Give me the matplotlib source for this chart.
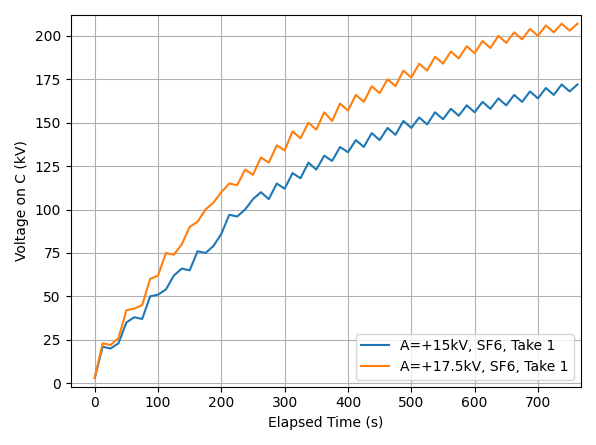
import matplotlib.pyplot as plt

# datos
t = [0, 12.5, 25, 37.5, 50, 62.5, 75, 87.5, 100, 112.5, 125, 137.5, 150, 162.5, 175, 187.5,
     200, 212.5, 225, 237.5, 250, 262.5, 275, 287.5, 300, 312.5, 325, 337.5, 350, 362.5,
     375, 387.5, 400, 412.5, 425, 437.5, 450, 462.5, 475, 487.5, 500, 512.5, 525, 537.5,
     550, 562.5, 575, 587.5, 600, 612.5, 625, 637.5, 650, 662.5, 675, 687.5, 700, 712.5,
     725, 737.5, 750, 762.5]
v15 = [3, 21, 20, 23, 35, 38, 37, 50, 51, 54, 62, 66, 65, 76, 75, 79,
       86, 97, 96, 100, 106, 110, 106, 115, 112, 121, 118, 127, 123, 131,
       128, 136, 133, 140, 136, 144, 140, 147, 143, 151, 147, 153, 149, 156,
       152, 158, 154, 160, 156, 162, 158, 164, 160, 166, 162, 168, 164, 170,
       166, 172, 168, 172]
v175 = [3, 23, 22, 26, 42, 43, 45, 60, 62, 75, 74, 80, 90, 93, 100, 104,
        110, 115, 114, 123, 120, 130, 127, 137, 134, 145, 141, 150, 146, 156,
        151, 161, 157, 166, 162, 171, 167, 175, 171, 180, 176, 184, 180, 188,
        184, 191, 187, 194, 190, 197, 193, 200, 196, 202, 198, 204, 200, 206,
        202, 207, 203, 207]

fig, ax = plt.subplots(figsize=(5.96, 4.45), dpi=100)
ax.plot(t, v15, color='#1f77b4', lw=1.5, label='A=+15kV, SF6, Take 1')
ax.plot(t, v175, color='#ff7f0e', lw=1.5, label='A=+17.5kV, SF6, Take 1')
ax.set_xlim(-38, 768)
ax.set_ylim(-2, 212)
ax.set_xticks(range(0, 701, 100))
ax.set_yticks(range(0, 201, 25))
ax.set_xlabel('Elapsed Time (s)')
ax.set_ylabel('Voltage on C (kV)')
ax.grid(True)
ax.legend(loc='lower right')
fig.tight_layout()
fig.savefig('out.png')
